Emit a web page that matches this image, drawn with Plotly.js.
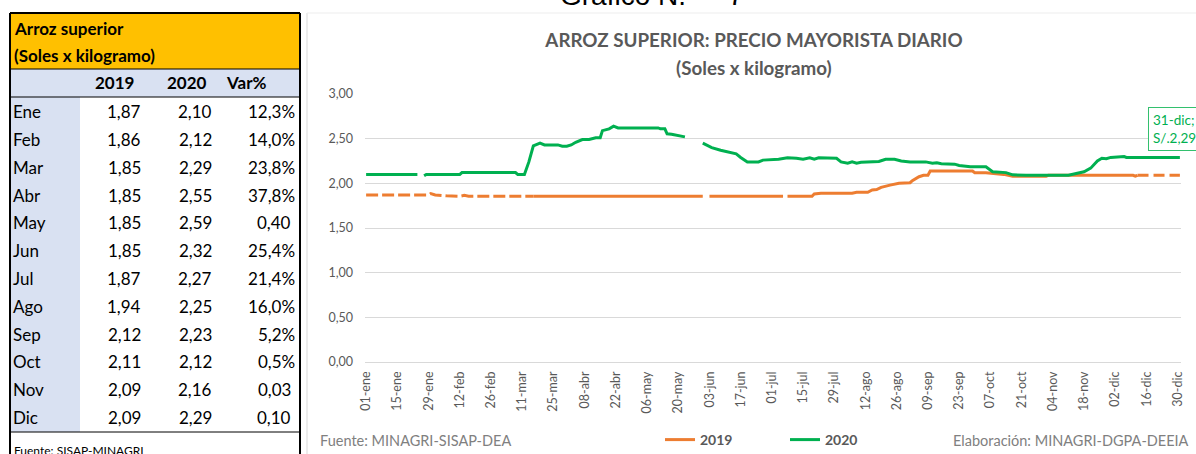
<!DOCTYPE html>
<html><head><meta charset="utf-8">
<script src="https://cdn.plot.ly/plotly-3.0.1.min.js"></script>
<style>html,body{margin:0;padding:0;background:#fff;overflow:hidden}#chart{width:1196px;height:454px}</style>
</head><body><div id="chart"></div>
<script>
// ---------- Table data ----------
const months  = ['Ene','Feb','Mar','Abr','May','Jun','Jul','Ago','Sep','Oct','Nov','Dic'];
const avg2019 = [1.87,1.86,1.85,1.85,1.85,1.85,1.87,1.94,2.12,2.11,2.09,2.09];
const avg2020 = [2.10,2.12,2.29,2.55,2.59,2.32,2.27,2.25,2.23,2.12,2.16,2.29];
const varPct  = ['12,3%','14,0%','23,8%','37,8%','0,40','25,4%','21,4%','16,0%','5,2%','0,5%','0,03','0,10'];

// ---------- Daily price series (day-of-year plotted on a common calendar) ----------
const dates2020 = ['2020-01-01','2020-01-24','2020-01-25','2020-01-27','2020-01-28','2020-02-12','2020-02-13','2020-03-08','2020-03-09','2020-03-12',
 '2020-03-14','2020-03-16','2020-03-19','2020-03-21','2020-03-27','2020-03-29','2020-03-31','2020-04-02','2020-04-04','2020-04-07',
 '2020-04-10','2020-04-13','2020-04-15','2020-04-16','2020-04-19','2020-04-21','2020-04-23','2020-05-11','2020-05-12','2020-05-14',
 '2020-05-15','2020-05-17','2020-05-20','2020-05-23','2020-05-27','2020-05-31','2020-06-04','2020-06-08','2020-06-13','2020-06-15',
 '2020-06-17','2020-06-20','2020-06-25','2020-06-27','2020-07-04','2020-07-08','2020-07-12','2020-07-15','2020-07-18','2020-07-20',
 '2020-07-22','2020-07-30','2020-08-01','2020-08-04','2020-08-06','2020-08-08','2020-08-10','2020-08-13','2020-08-18','2020-08-21',
 '2020-08-25','2020-08-28','2020-09-01','2020-09-08','2020-09-11','2020-09-13','2020-09-15','2020-09-21','2020-09-23','2020-09-28',
 '2020-10-05','2020-10-08','2020-10-14','2020-10-17','2020-10-23','2020-11-11','2020-11-15','2020-11-18','2020-11-21','2020-11-24',
 '2020-11-26','2020-11-28','2020-11-30','2020-12-03','2020-12-06','2020-12-07','2020-12-31'];
const price2020 = [2.10,2.10,null,2.085,2.10,2.10,2.12,2.12,2.10,2.10,
 2.24,2.42,2.45,2.43,2.43,2.415,2.415,2.43,2.46,2.49,
 2.49,2.51,2.51,2.59,2.61,2.64,2.62,2.62,2.61,2.61,
 2.555,2.55,2.535,2.52,null,2.45,2.40,2.37,2.34,2.33,
 2.29,2.24,2.24,2.26,2.27,2.285,2.28,2.27,2.285,2.27,
 2.285,2.28,2.24,2.225,2.24,2.225,2.235,2.24,2.245,2.27,
 2.27,2.25,2.24,2.24,2.225,2.23,2.22,2.215,2.20,2.185,
 2.185,2.13,2.12,2.095,2.09,2.09,2.11,2.13,2.17,2.25,
 2.28,2.275,2.29,2.295,2.30,2.29,2.29];

const dates2019Start = ['2020-01-01','2020-01-29','2020-01-30','2020-02-01','2020-02-06','2020-02-10','2020-02-12','2020-02-14','2020-02-16','2020-03-16'];
const price2019Start = [1.87,1.87,1.885,1.87,1.86,1.86,1.855,1.865,1.855,1.855];

const dates2019 = ['2020-03-16','2020-05-31','2020-06-02','2020-06-03','2020-07-06','2020-07-07','2020-07-08','2020-07-19','2020-07-20','2020-07-23',
 '2020-08-06','2020-08-08','2020-08-13','2020-08-15','2020-08-17','2020-08-19','2020-08-23','2020-08-27','2020-09-01','2020-09-02',
 '2020-09-05','2020-09-07','2020-09-09','2020-09-10','2020-09-29','2020-09-30','2020-10-05','2020-10-13','2020-10-17','2020-11-01',
 '2020-11-02','2020-12-10','2020-12-11','2020-12-12'];
const price2019 = [1.855,1.855,null,1.855,1.855,null,1.855,1.855,1.88,1.889,
 1.889,1.90,1.90,1.926,1.93,1.955,1.98,2.00,2.007,2.03,
 2.074,2.09,2.09,2.137,2.137,2.118,2.118,2.10,2.08,2.08,
 2.09,2.09,2.08,2.09];

const dates2019End = ['2020-12-12','2020-12-31'];
const price2019End = [2.09,2.09];

// ---------- Axis labels ----------
const tickDates = ['2020-01-01','2020-01-15','2020-01-29','2020-02-12','2020-02-26','2020-03-11','2020-03-25','2020-04-08','2020-04-22',
 '2020-05-06','2020-05-20','2020-06-03','2020-06-17','2020-07-01','2020-07-15','2020-07-29','2020-08-12','2020-08-26','2020-09-09',
 '2020-09-23','2020-10-07','2020-10-21','2020-11-04','2020-11-18','2020-12-02','2020-12-16','2020-12-30'];
const tickLabels = ['01-ene','15-ene','29-ene','12-feb','26-feb','11-mar','25-mar','08-abr','22-abr','06-may','20-may','03-jun','17-jun',
 '01-jul','15-jul','29-jul','12-ago','26-ago','09-sep','23-sep','07-oct','21-oct','04-nov','18-nov','02-dic','16-dic','30-dic'];
const yTicks = [0,0.5,1,1.5,2,2.5,3];

// ---------- Geometry helpers ----------
const W=1196,H=454,ML=365,MR=15,MT=94,MB=92,PW=W-ML-MR,PH=H-MT-MB;
const X = p => (p-ML)/PW;
const Y = p => (H-MB-p)/PH;

const ORANGE='#ED7D31', GREEN='#00B050', GREY='#595959';
const FONT='Lato';

const traces = [
 {x:dates2019Start, y:price2019Start, type:'scatter', mode:'lines', name:'2019', showlegend:false,
  line:{color:ORANGE, width:3, dash:'12px,4px'}, connectgaps:false},
 {x:dates2019, y:price2019, type:'scatter', mode:'lines', name:'2019', legendgroup:'2019',
  line:{color:ORANGE, width:3}, connectgaps:false},
 {x:dates2019End, y:price2019End, type:'scatter', mode:'lines', name:'2019', showlegend:false,
  line:{color:ORANGE, width:3, dash:'11px,5px'}, connectgaps:false},
 {x:dates2020, y:price2020, type:'scatter', mode:'lines', name:'2020',
  line:{color:GREEN, width:3}, connectgaps:false}
];

// ---------- Table shapes ----------
const TL=10, TR=300, TTop=13;
const rowH = 27.8, firstRowY = 111.7;
const shapes = [
 {type:'rect', xref:'paper', yref:'paper', x0:X(TL), x1:X(TR), y0:Y(TTop), y1:Y(69), fillcolor:'#FFC000', line:{width:0}},
 {type:'rect', xref:'paper', yref:'paper', x0:X(TL), x1:X(TR), y0:Y(69), y1:Y(97), fillcolor:'#D9E1F2', line:{width:0}},
 {type:'rect', xref:'paper', yref:'paper', x0:X(TL), x1:X(80), y0:Y(97), y1:Y(432), fillcolor:'#D9E1F2', line:{width:0}},
 {type:'line', xref:'paper', yref:'paper', x0:X(TL), x1:X(TR), y0:Y(69), y1:Y(69), line:{color:'#000', width:1}},
 {type:'line', xref:'paper', yref:'paper', x0:X(TL), x1:X(TR), y0:Y(97), y1:Y(97), line:{color:'#000', width:1}},
 {type:'line', xref:'paper', yref:'paper', x0:X(TL), x1:X(TR), y0:Y(432), y1:Y(432), line:{color:'#000', width:1}},
 {type:'line', xref:'paper', yref:'paper', x0:X(TL), x1:X(TR), y0:Y(TTop), y1:Y(TTop), line:{color:'#000', width:2}},
 {type:'line', xref:'paper', yref:'paper', x0:X(TL), x1:X(TL), y0:Y(TTop), y1:Y(470), line:{color:'#000', width:2}},
 {type:'line', xref:'paper', yref:'paper', x0:X(TR), x1:X(TR), y0:Y(TTop), y1:Y(470), line:{color:'#000', width:2}},
 // chart frame
 {type:'line', xref:'paper', yref:'paper', x0:X(307), x1:X(307), y0:Y(13), y1:Y(470), line:{color:'#D9D9D9', width:1}},
 {type:'line', xref:'paper', yref:'paper', x0:X(307), x1:X(1200), y0:Y(13), y1:Y(13), line:{color:'#EDEDED', width:1}}
];

const fmt = v => v.toFixed(2).replace('.', ',');
const ann = [];
const tFont = {family:FONT, size:17, color:'#000'};
ann.push({xref:'paper', yref:'paper', x:X(12), y:Y(29), xanchor:'left', yanchor:'middle', showarrow:false, text:'<b>Arroz superior</b>', font:tFont});
ann.push({xref:'paper', yref:'paper', x:X(12), y:Y(56), xanchor:'left', yanchor:'middle', showarrow:false, text:'<b>(Soles x kilogramo)</b>', font:tFont});
ann.push({xref:'paper', yref:'paper', x:X(115), y:Y(83), xanchor:'center', yanchor:'middle', showarrow:false, text:'<b>2019</b>', font:tFont});
ann.push({xref:'paper', yref:'paper', x:X(187), y:Y(83), xanchor:'center', yanchor:'middle', showarrow:false, text:'<b>2020</b>', font:tFont});
ann.push({xref:'paper', yref:'paper', x:X(246), y:Y(83), xanchor:'center', yanchor:'middle', showarrow:false, text:'<b>Var%</b>', font:tFont});
months.forEach((m,i)=>{
  const yy = Y(firstRowY + i*rowH);
  ann.push({xref:'paper', yref:'paper', x:X(11), y:yy, xanchor:'left', yanchor:'middle', showarrow:false, text:m, font:tFont});
  ann.push({xref:'paper', yref:'paper', x:X(143), y:yy, xanchor:'right', yanchor:'middle', showarrow:false, text:fmt(avg2019[i]), font:tFont});
  ann.push({xref:'paper', yref:'paper', x:X(214), y:yy, xanchor:'right', yanchor:'middle', showarrow:false, text:fmt(avg2020[i]), font:tFont});
  ann.push({xref:'paper', yref:'paper', x:X(varPct[i].endsWith('%')?297:293), y:yy, xanchor:'right', yanchor:'middle', showarrow:false, text:varPct[i], font:tFont});
});
ann.push({xref:'paper', yref:'paper', x:X(12), y:Y(441), xanchor:'left', yanchor:'top', showarrow:false, text:'Fuente: SISAP-MINAGRI', font:{family:FONT, size:12, color:'#000'}});

// chart texts
ann.push({xref:'paper', yref:'paper', x:X(558), y:Y(13), xanchor:'left', yanchor:'bottom', showarrow:false, text:'Gráfico N.°    7', font:{family:'Liberation Sans', size:28, color:'#000'}});
ann.push({xref:'paper', yref:'paper', x:X(754), y:Y(67), xanchor:'center', yanchor:'middle', showarrow:false, text:'<b>(Soles x kilogramo)</b>', font:{family:FONT, size:18.8, color:GREY}});
ann.push({xref:'paper', yref:'paper', x:X(318), y:Y(440), xanchor:'left', yanchor:'middle', showarrow:false, text:'Fuente: MINAGRI-SISAP-DEA', font:{family:FONT, size:14.5, color:'#808080'}});
ann.push({xref:'paper', yref:'paper', x:X(1191), y:Y(440), xanchor:'right', yanchor:'middle', showarrow:false, text:'Elaboración: MINAGRI-DGPA-DEEIA', font:{family:FONT, size:14.5, color:'#808080'}});
// last point data label
const lastIdx = dates2020.length-1;
ann.push({xref:'paper', yref:'paper', x:X(1148), y:Y(107), xanchor:'left', yanchor:'top', showarrow:false, align:'left',
  text:'31-dic;<br>S/.'+fmt(price2020[lastIdx]), font:{family:FONT, size:13.5, color:GREEN},
  bordercolor:'#33C06E', borderwidth:1, borderpad:4, bgcolor:'#fff'});

const layout = {
  width:W, height:H, margin:{l:ML, r:MR, t:MT, b:MB, pad:0, autoexpand:false},
  paper_bgcolor:'#fff', plot_bgcolor:'#fff',
  separators:', ',
  title:{text:'<b>ARROZ SUPERIOR: PRECIO MAYORISTA DIARIO</b>', xref:'container', yref:'container', x:754/W, y:1-40/H,
         xanchor:'center', yanchor:'middle', font:{family:FONT, size:18.8, color:GREY}},
  xaxis:{type:'date', range:['2019-12-31 12:00','2020-12-31 12:00'], tickvals:tickDates, ticktext:tickLabels,
         tickangle:-90, tickfont:{family:FONT, size:12.5, color:GREY}, showgrid:false, zeroline:false, showline:false,
         ticks:'', ticklabelstandoff:6, fixedrange:true},
  yaxis:{range:[0,3], tickvals:yTicks, tickformat:'.2f', tickfont:{family:FONT, size:12.5, color:GREY},
         gridcolor:'#D9D9D9', gridwidth:1, zeroline:true, zerolinecolor:'#D9D9D9', zerolinewidth:1, showline:false,
         ticks:'', ticklabelstandoff:11, fixedrange:true},
  showlegend:true,
  legend:{orientation:'h', x:X(660), xanchor:'left', y:Y(440), yanchor:'middle', bgcolor:'rgba(0,0,0,0)',
          font:{family:FONT, size:14, color:GREY, weight:'bold'}, entrywidth:80},
  shapes:shapes, annotations:ann
};
Plotly.newPlot('chart', traces, layout, {displayModeBar:false, staticPlot:true});
</script></body></html>
